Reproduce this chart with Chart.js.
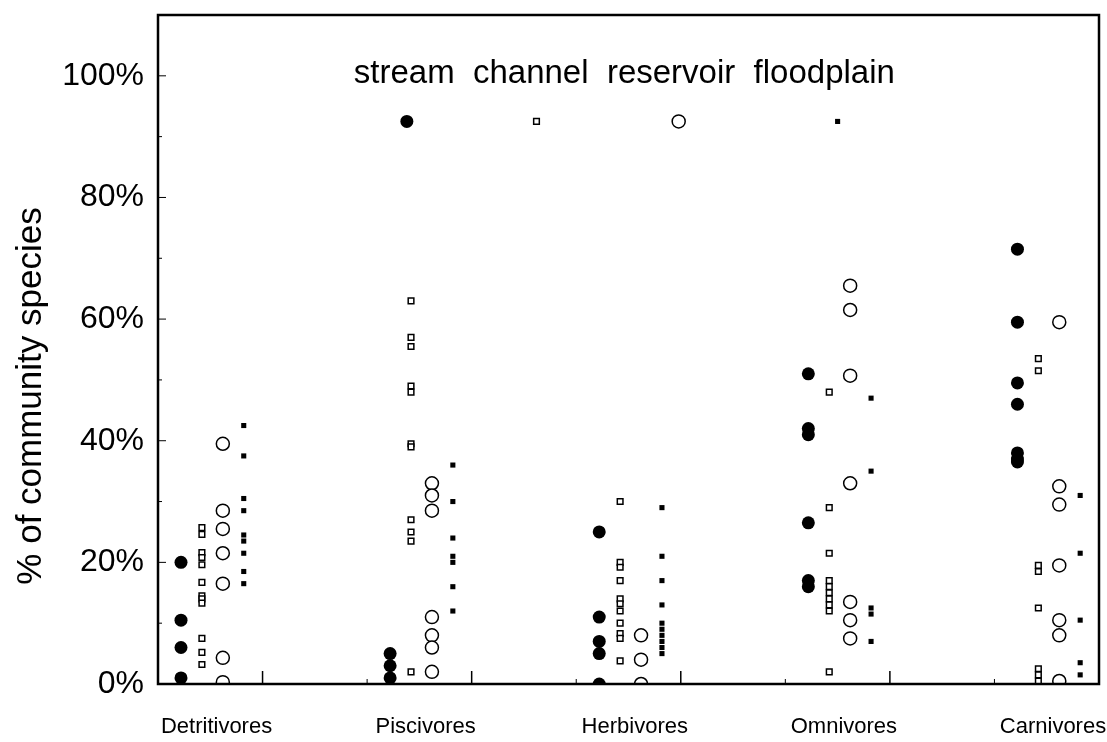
<!DOCTYPE html>
<html lang="en">
<head>
    <meta charset="UTF-8">
    <script src="https://cdn.jsdelivr.net/npm/chart.js"></script>
    <title>Feeding guilds</title>
    <style>
      body { margin: 0; background: #fff; }
      #box { width: 1107px; height: 742px; }
    </style>
</head>
<body>
    <div id="box">
        <canvas id="myScatter"></canvas>
    </div>

<script>
  // categorias e valores (% das especies da comunidade)
  const categorias = ["Detritivores", "Piscivores", "Herbivores", "Omnivores", "Carnivores"];
  const series = ["stream", "channel", "reservoir", "floodplain"];

  const stream = [
    [20, 10.5, 6, 1],
    [5, 3, 1],
    [25, 11, 7, 5, 0],
    [51, 42, 41, 26.5, 17, 16],
    [71.5, 59.5, 49.5, 46, 38, 37, 36.5]
  ];
  const channel = [
    [25.7, 24.6, 21.6, 20.8, 19.6, 16.7, 14.5, 14, 13.3, 7.5, 5.2, 3.2],
    [63, 57, 55.5, 49, 48, 39.5, 39, 27, 25, 23.5, 2],
    [30, 20, 19.2, 17, 14, 13.2, 12, 10, 8.3, 7.5, 3.8],
    [48, 29, 21.5, 17, 16, 15, 14, 13, 12, 2],
    [53.5, 51.5, 19.5, 18.5, 12.5, 2.5, 1.5, 0.5]
  ];
  const reservoir = [
    [39.5, 28.5, 25.5, 21.5, 16.5, 4.3, 0.3],
    [33, 31, 28.5, 11, 8, 6, 2],
    [8, 4, 0],
    [65.5, 61.5, 50.7, 33, 13.5, 10.5, 7.5],
    [59.5, 32.5, 29.5, 19.5, 10.5, 8, 0.5]
  ];
  const floodplain = [
    [42.5, 37.5, 30.5, 28.5, 24.5, 23.5, 21.5, 18.5, 16.5],
    [36, 30, 24, 21, 20, 16, 12],
    [29, 21, 17, 13, 10, 9, 8, 7, 6, 5],
    [47, 35, 12.5, 11.5, 7],
    [31, 21.5, 10.5, 3.5, 1.5]
  ];

  // simbolos da "legenda" soltos no grafico
  const legendaX = [1.69, 2.31, 2.99, 3.75];
  const legendaY = [92.5, 92.5, 92.5, 92.5];

  const yTicks = [0, 20, 40, 60, 80, 100];

  // cada grupo fica em i + 0.61, 0.71, 0.81, 0.91 no eixo x
  function montarPontos(valores, j) {
    let pts = [];
    for (let i = 0; i < valores.length; i++) {
      for (let k = 0; k < valores[i].length; k++) {
        pts.push({ x: i + 0.61 + 0.1 * j, y: valores[i][k] });
      }
    }
    return pts;
  }

  const estilos = [
    { pointStyle: "circle", radius: 6.5, bg: "#000", bw: 0 },
    { pointStyle: "rect", radius: 4, bg: "#fff", bw: 1.5 },
    { pointStyle: "circle", radius: 6.5, bg: "#fff", bw: 1.5 },
    { pointStyle: "rect", radius: 3.6, bg: "#000", bw: 0 }
  ];

  const todos = [stream, channel, reservoir, floodplain];
  let datasets = todos.map(function (vals, j) {
    return {
      label: series[j],
      data: montarPontos(vals, j),
      pointStyle: estilos[j].pointStyle,
      pointRadius: estilos[j].radius,
      pointBackgroundColor: estilos[j].bg,
      pointBorderColor: "#000",
      pointBorderWidth: estilos[j].bw,
      showLine: false
    };
  });

  datasets.push({
    label: "legenda",
    data: legendaX.map((x, i) => ({ x: x, y: legendaY[i] })),
    pointStyle: estilos.map(e => e.pointStyle),
    pointRadius: estilos.map(e => e.radius),
    pointBackgroundColor: estilos.map(e => e.bg),
    pointBorderColor: "#000",
    pointBorderWidth: estilos.map(e => e.bw),
    showLine: false
  });

  // moldura, marcas dos eixos e textos
  const extras = {
    id: "extras",
    afterDraw(chart) {
      const ctx = chart.ctx;
      const a = chart.chartArea;
      const xs = chart.scales.x;
      const ys = chart.scales.y;
      ctx.save();
      ctx.strokeStyle = "#000";

      // marcas no eixo x (para dentro)
      ctx.lineWidth = 1.5;
      for (let v = 1; v <= 4; v++) {
        let px = xs.getPixelForValue(v);
        ctx.beginPath(); ctx.moveTo(px, a.bottom); ctx.lineTo(px, a.bottom - 13); ctx.stroke();
      }
      ctx.lineWidth = 1;
      for (let v = 1.5; v < 5; v++) {
        let px = xs.getPixelForValue(v);
        ctx.beginPath(); ctx.moveTo(px, a.bottom); ctx.lineTo(px, a.bottom - 5); ctx.stroke();
      }
      // marcas no eixo y
      for (let v = 10; v <= 100; v += 10) {
        let py = ys.getPixelForValue(v);
        let len = v % 20 == 0 ? 8 : 4;
        ctx.beginPath(); ctx.moveTo(a.left, py); ctx.lineTo(a.left + len, py); ctx.stroke();
      }

      ctx.lineWidth = 2.5;
      ctx.strokeRect(a.left, a.top, a.right - a.left, a.bottom - a.top);

      ctx.fillStyle = "#000";
      ctx.font = "33px 'Liberation Sans', Arial, sans-serif";
      ctx.textAlign = "center";
      ctx.textBaseline = "middle";
      ctx.fillText(series.join("  "), xs.getPixelForValue(2.73), ys.getPixelForValue(100.3));

      ctx.translate(31, 396);
      ctx.rotate(-Math.PI / 2);
      ctx.font = "35px 'Liberation Sans', Arial, sans-serif";
      ctx.fillText("% of community species", 0, 0);
      ctx.restore();
    }
  };

  const config = {
    type: "scatter",
    data: { datasets: datasets },
    options: {
      responsive: true,
      maintainAspectRatio: false,
      animation: false,
      layout: { padding: { top: 15, right: 3, left: 0, bottom: 0 } },
      plugins: { legend: { display: false }, tooltip: { enabled: false } },
      scales: {
        x: {
          type: "linear",
          min: 0.5,
          max: 5,
          grid: { display: false, drawTicks: false },
          border: { display: false },
          afterBuildTicks: function (scale) {
            scale.ticks = categorias.map((c, i) => ({ value: i + 0.78 }));
          },
          afterFit: function (scale) {
            scale.height = 58;
            scale.paddingLeft = 0;
            scale.paddingRight = 0;
          },
          ticks: {
            autoSkip: false,
            maxRotation: 0,
            padding: 30,
            color: "#000",
            font: { family: "'Liberation Sans', Arial, sans-serif", size: 22 },
            callback: function (v, idx) { return categorias[idx]; }
          }
        },
        y: {
          min: 0,
          max: 110,
          grid: { display: false, drawTicks: false },
          border: { display: false },
          afterBuildTicks: function (scale) {
            scale.ticks = yTicks.map(v => ({ value: v }));
          },
          afterFit: function (scale) {
            scale.width = 158;
            scale.paddingTop = 0;
            scale.paddingBottom = 0;
          },
          ticks: {
            padding: 14,
            color: "#000",
            font: { family: "'Liberation Sans', Arial, sans-serif", size: 32 },
            callback: function (v) { return v + "%"; }
          }
        }
      }
    },
    plugins: [extras]
  };

  let myScatter = new Chart(document.getElementById("myScatter"), config);
</script>
</body>
</html>
